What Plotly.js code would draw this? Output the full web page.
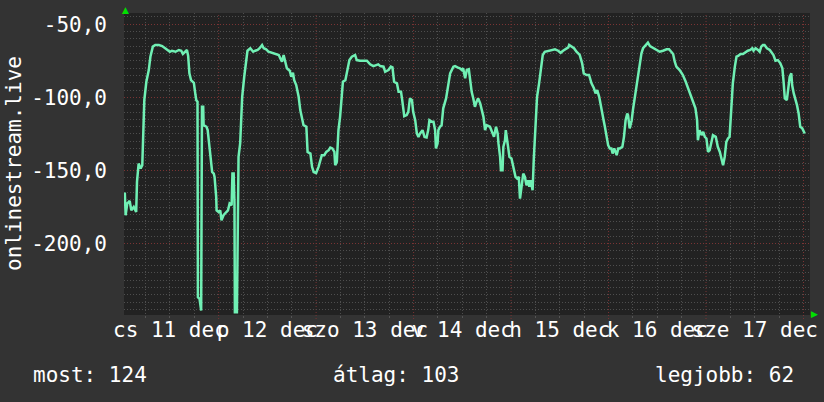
<!DOCTYPE html>
<html><head><meta charset="utf-8">
<script src="https://cdn.plot.ly/plotly-3.0.1.min.js"></script>
<style>html,body{margin:0;padding:0;background:#333333;}#chart{width:824px;height:402px;}</style>
</head><body><div id="chart"></div>
<script>
// hours since 10 Dec 00:00
const hours = [0.9,1.1,1.5,2.1,2.5,3.1,3.7,3.9,4.3,4.8,5.2,5.4,5.7,6.2,6.8,7.2,7.8,8.4,9.3,10.1,10.9,12.0,12.5,13.4,14.2,14.8,15.2,15.8,16.2,16.5,16.8,17.2,17.9,18.3,18.5,18.8,18.9,19.3,19.6,19.7,19.9,20.2,20.3,21.0,21.3,21.7,22.1,22.4,22.8,23.0,23.4,23.5,24.0,24.4,24.7,25.2,25.9,26.3,26.7,27.2,27.4,27.7,27.9,28.0,28.5,28.7,28.9,29.3,29.8,30.3,30.8,31.1,31.8,32.5,33.0,33.6,34.1,34.7,35.1,35.7,36.3,37.1,37.9,38.8,39.2,39.6,40.0,40.4,40.8,41.5,41.9,42.3,42.6,43.1,43.7,44.1,44.5,44.9,45.6,45.9,46.6,47.0,47.4,48.0,48.6,49.0,49.4,50.0,50.5,51.1,51.5,52.0,52.5,52.7,53.1,53.5,53.9,54.3,54.6,55.2,55.6,56.2,56.8,57.6,58.0,58.8,60.5,61.3,62.1,63.3,63.8,64.6,65.0,65.8,66.4,66.8,67.2,67.9,68.3,68.9,69.2,69.7,70.3,70.7,71.1,71.6,71.9,72.4,72.8,73.2,73.6,74.2,74.7,75.2,75.6,75.9,76.5,76.9,77.3,77.5,77.9,78.1,78.5,78.9,79.3,80.0,80.6,81.0,81.8,82.2,82.8,83.4,83.9,84.2,84.7,85.1,85.6,85.9,86.3,86.7,87.1,87.5,87.9,88.4,88.8,89.2,89.6,90.0,90.8,91.2,91.8,92.3,92.7,92.9,93.3,93.5,93.9,94.1,94.5,94.7,95.1,95.6,96.1,96.5,97.1,97.5,97.9,98.2,98.6,99.0,99.4,99.8,100.2,100.5,100.8,101.3,101.6,102.0,102.4,102.9,103.3,103.8,104.3,105.1,106.0,106.8,107.6,108.2,108.8,109.5,110.1,110.3,110.9,111.5,112.1,112.9,113.5,113.9,114.6,115.2,115.8,116.4,116.8,117.2,117.7,118.1,118.7,119.1,119.5,119.9,120.3,120.7,121.0,121.4,122.0,122.4,122.8,123.4,123.8,124.2,124.6,124.8,125.2,125.7,126.0,126.5,126.9,127.3,127.7,128.1,128.5,129.2,129.7,130.2,131.0,131.8,132.6,133.4,134.3,134.9,135.5,135.9,136.3,136.7,137.5,138.3,139.0,139.6,140.2,140.8,141.4,141.8,142.0,142.4,142.9,143.3,143.7,144.1,144.5,144.9,145.3,145.7,146.4,146.9,147.4,147.8,148.2,148.6,149.0,149.4,149.8,150.2,150.6,151.1,151.5,151.9,152.5,153.1,153.8,154.3,154.9,155.4,155.7,156.2,156.8,157.2,157.6,158.0,158.4,159.0,159.7,160.1,160.6,161.1,161.7,162.3,162.8,163.1,163.4,163.9,164.2,164.6,165.0,165.2,165.6,166.0,166.4,166.8,167.2,167.7,168.3];
const rank = [-165,-180.6,-172.6,-170.8,-177.2,-174.9,-178.4,-157.8,-145.2,-148.6,-146.4,-127.0,-101.9,-89.3,-81.3,-72.2,-65.3,-64.2,-64.2,-64.9,-66.4,-68.8,-68.1,-68.8,-67.6,-68.1,-70.3,-68.8,-67.6,-71.7,-83.6,-88.2,-90.0,-98.4,-101.9,-103.0,-236.6,-237.7,-245.7,-245.7,-106.4,-106.4,-119.0,-120.1,-122.4,-131.5,-140.7,-151.0,-152.1,-154.4,-168.1,-177.2,-178.4,-177.2,-184.1,-180.6,-178.4,-177.2,-172.6,-173.8,-152.1,-152.1,-172.4,-247,-247,-168.1,-140.7,-131.5,-99.6,-85.9,-75.6,-68.1,-66.4,-68.8,-68.1,-67.6,-66.4,-64.2,-66.4,-67.1,-68.8,-69.5,-69.9,-71.0,-73.3,-75.6,-71.0,-75.6,-80.1,-81.8,-85.9,-83.2,-88.2,-91.6,-99.6,-108.7,-113.3,-119.0,-120.1,-137.3,-138.4,-147.5,-151.0,-151.7,-147.5,-144.1,-139.5,-139.5,-137.3,-136.1,-134.3,-134.9,-137.3,-146.4,-144.1,-122.4,-113.3,-99.6,-89.3,-88.2,-82.5,-74.5,-72.2,-71.0,-74.5,-74.9,-74.9,-77.4,-78.6,-77.4,-78.6,-79.0,-82.5,-81.3,-79.0,-79.5,-89.3,-90.4,-96.2,-96.2,-101.9,-112.8,-112.1,-109.9,-100.7,-101.9,-109.9,-115.6,-124.7,-127.0,-124.7,-122.4,-127.0,-127.4,-122.4,-115.6,-116.7,-116.7,-122.4,-134.9,-131.5,-122.4,-120.1,-119.0,-107.5,-100.7,-90.4,-83.6,-79.0,-78.6,-79.5,-80.1,-81.3,-80.1,-87.0,-81.3,-80.8,-88.2,-96.2,-100.7,-106.4,-103.0,-100.7,-104.1,-108.7,-113.3,-122.4,-119.0,-120.1,-122.4,-127.0,-120.1,-124.7,-131.5,-140.7,-149.8,-149.8,-133.8,-129.3,-122.4,-131.5,-140.7,-141.8,-147.5,-154.4,-155.5,-154.4,-169.2,-158.9,-152.1,-154.4,-160.1,-156.7,-161.2,-156.7,-163.5,-141.8,-114.4,-99.6,-90.4,-81.3,-71.0,-68.8,-68.1,-67.6,-67.1,-68.1,-69.5,-68.1,-67.1,-65.8,-64.2,-65.3,-66.4,-68.8,-71.0,-76.7,-83.6,-84.7,-84.7,-90.4,-93.8,-97.3,-95.0,-99.6,-106.4,-114.4,-120.1,-127.0,-132.7,-134.9,-134.9,-138.4,-134.9,-139.5,-134.9,-134.9,-133.8,-127.0,-115.6,-111.0,-112.1,-121.2,-115.6,-108.7,-99.6,-90.4,-83.6,-75.6,-69.9,-66.4,-64.2,-62.6,-64.9,-66.4,-67.6,-68.8,-68.1,-67.1,-67.1,-68.8,-70.3,-75.6,-79.0,-81.3,-84.7,-89.3,-93.8,-98.4,-101.9,-107.5,-115.6,-129.3,-122.4,-125.8,-123.6,-127.0,-128.1,-137.3,-136.1,-131.5,-125.8,-127.0,-133.8,-137.3,-141.8,-146.4,-140.7,-130.4,-128.1,-127.0,-108.7,-90.4,-79.0,-72.2,-71.7,-70.3,-70.3,-68.8,-68.1,-67.6,-66.4,-68.1,-66.4,-67.6,-68.8,-65.3,-64.2,-64.2,-66.4,-67.6,-68.8,-71.0,-74.9,-74.5,-76.7,-80.1,-89.3,-100.7,-101.9,-95.0,-85.9,-83.6,-91.6,-97.3,-100.7,-105.3,-111.0,-120.1,-121.2,-124.7];

// midnights (hours since 10 Dec 00:00), day labels (centred at noon of each day)
const midnightHours = [24,48,72,96,120,144,168];
const dayNoonHours = [12,36,60,84,108,132,156];
const dayLabels = ["cs 11 dec","p 12 dec","szo 13 dec","v 14 dec","h 15 dec","k 16 dec","sze 17 dec"];
const yTickVals = [-200,-150,-100,-50];
const yTickText = ["-200,0","-150,0","-100,0","-50,0"];
const seriesName = "onlinestream.live";
const legendTexts = ["most: 124","átlag: 103","legjobb: 62"];

const FONT = "DejaVu Sans Mono";
const xRange = [0.7, 169.6];
const RED = '#7a3434';

// 6-hourly grid positions (not midnights); noons carry the day labels
const xTickVals = [], xTickText = [];
for (let h = 6; h < xRange[1]; h += 6) {
  if (midnightHours.includes(h)) continue;
  xTickVals.push(h);
  const k = dayNoonHours.indexOf(h);
  xTickText.push(k >= 0 ? dayLabels[k] : "");
}

const data = [{
  x: hours, y: rank, type: 'scatter', mode: 'lines',
  line: {color: '#70f0b4', width: 2.5}, hoverinfo: 'skip'
}];
const shapes = midnightHours.map(h => ({
  type: 'line', xref: 'x', yref: 'paper', x0: h, x1: h, y0: -4/302, y1: 1,
  line: {color: RED, width: 1, dash: '1px,2px'}, layer: 'below'
}));
const layout = {
  width: 824, height: 402,
  margin: {l: 124, r: 14, t: 13, b: 87},
  paper_bgcolor: '#333333', plot_bgcolor: '#222222',
  showlegend: false,
  font: {family: FONT, size: 21, color: '#ffffff'},
  xaxis: {
    range: xRange, tickmode: 'array', tickvals: xTickVals, ticktext: xTickText,
    tickangle: 0, ticklabelstandoff: -6, ticklabeloverflow: 'allow',
    tickfont: {family: FONT, size: 21, color: '#ffffff'},
    showgrid: true, gridcolor: '#4e4e4e', griddash: '1px,2px', gridwidth: 1,
    ticks: 'outside', ticklen: 2, tickcolor: '#555555',
    zeroline: false, showline: false, fixedrange: true
  },
  yaxis: {
    range: [-248.8, -42.3], tickmode: 'array', tickvals: yTickVals, ticktext: yTickText,
    showgrid: true, gridcolor: RED, griddash: '1px,2px',
    minor: {tick0: 0, dtick: 5, showgrid: true, gridcolor: '#4e4e4e', griddash: '1px,2px'},
    ticks: '', ticklabelstandoff: 16, zeroline: false,
    tickfont: {family: FONT, size: 21, color: '#ffffff'}
  },
  shapes: shapes,
  annotations: [
    {text: seriesName, xref: 'paper', yref: 'paper', x: (14-124)/686, y: 0.5, textangle: -90,
     showarrow: false, xanchor: 'center', yanchor: 'middle', font: {family: FONT, size: 21, color: '#ffffff'}},
    {text: legendTexts[0], xref: 'paper', yref: 'paper', x: (31-124)/686, y: (315-375)/302,
     showarrow: false, xanchor: 'left', yanchor: 'middle', font: {family: FONT, size: 21, color: '#ffffff'}},
    {text: legendTexts[1], xref: 'paper', yref: 'paper', x: (331-124)/686, y: (315-375)/302,
     showarrow: false, xanchor: 'left', yanchor: 'middle', font: {family: FONT, size: 21, color: '#ffffff'}},
    {text: legendTexts[2], xref: 'paper', yref: 'paper', x: (796-124)/686, y: (315-375)/302,
     showarrow: false, xanchor: 'right', yanchor: 'middle', font: {family: FONT, size: 21, color: '#ffffff'}},
    {text: '▲', xref: 'paper', yref: 'paper', x: (125-124)/686, y: (315-10)/302,
     showarrow: false, xanchor: 'center', yanchor: 'middle', font: {family: 'DejaVu Sans', size: 9, color: '#00e000'}},
    {text: '▶', xref: 'paper', yref: 'paper', x: (814-124)/686, y: (315-314)/302,
     showarrow: false, xanchor: 'center', yanchor: 'middle', font: {family: 'DejaVu Sans', size: 9, color: '#00e000'}}
  ]
};
Plotly.newPlot('chart', data, layout, {staticPlot: true, displayModeBar: false});
</script></body></html>
